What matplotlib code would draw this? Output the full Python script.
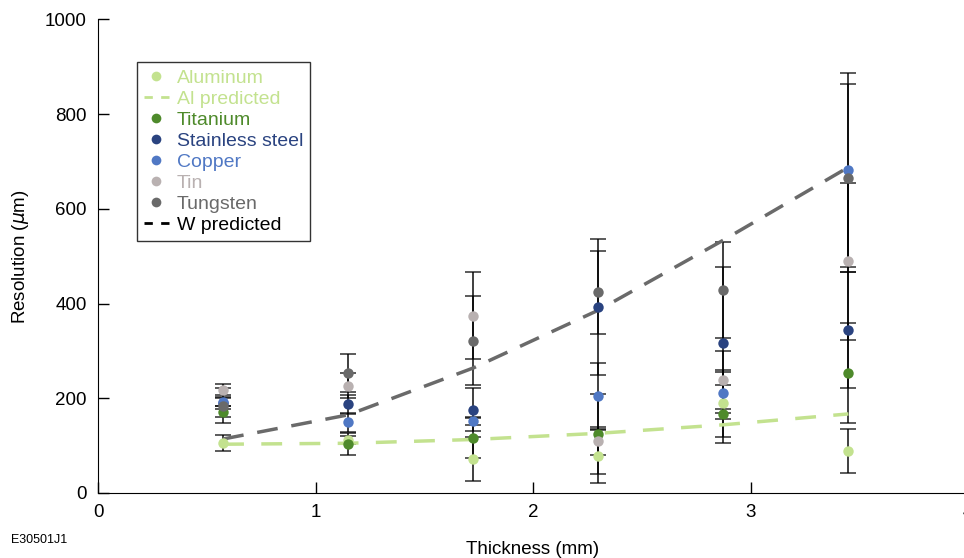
import numpy as np
import matplotlib.pyplot as plt
from matplotlib.lines import Line2D

plt.rcParams['font.family'] = ['Liberation Sans', 'DejaVu Sans']

# thickness positions (mm)
thickness = [0.575, 1.15, 1.725, 2.3, 2.875, 3.45]

# measured resolution (um) and error bars
aluminum = [105, 112, 72, 78, 189, 89]
aluminum_err = [17, 8, 47, 56, 70, 46]
titanium = [172, 103, 117, 125, 167, 253]
titanium_err = [11, 23, 44, 85, 62, 105]
stainless = [190, 187, 176, 393, 317, 344]
stainless_err = [12, 21, 46, 143, 161, 123]
copper = [192, 149, 151, 205, 212, 682]
copper_err = [8, 20, 8, 69, 44, 204]
tin = [218, 227, 374, 110, 239, 489]
tin_err = [12, 27, 92, 30, 61, 165]
tungsten = [184, 253, 322, 424, 429, 665]
tungsten_err = [37, 40, 94, 88, 102, 198]

# model predictions
al_predicted = [103, 105, 113, 126, 144, 167]
w_predicted = [114, 165, 264, 386, 534, 688]

c_al = '#c3e28f'
c_ti = '#4e8a2b'
c_ss = '#2a4380'
c_cu = '#5078c4'
c_sn = '#b9b1b1'
c_w = '#6a6a6a'

fig = plt.figure(figsize=(9.64, 5.58), dpi=100)
ax = fig.add_axes([0.1017, 0.1165, 0.9025, 0.8486])

series = [
    (aluminum, aluminum_err, c_al),
    (titanium, titanium_err, c_ti),
    (stainless, stainless_err, c_ss),
    (copper, copper_err, c_cu),
    (tin, tin_err, c_sn),
    (tungsten, tungsten_err, c_w),
]

# error bars first, markers on top
for vals, err, col in series:
    ax.errorbar(thickness, vals, yerr=err, fmt='none', ecolor='black',
                elinewidth=1.4, capsize=6, capthick=1.2, alpha=0.75, zorder=2)

ax.plot(thickness, al_predicted, color=c_al, lw=2.5, dashes=(6, 5), zorder=3)
ax.plot(thickness, w_predicted, color=c_w, lw=2.5, dashes=(6, 4), zorder=3)

for vals, err, col in series:
    ax.plot(thickness, vals, 'o', color=col, ms=7.5, mec='none', zorder=4)

ax.set_xlim(0, 4)
ax.set_ylim(0, 1000)
ax.set_xticks([0, 1, 2, 3, 4])
ax.set_yticks([0, 200, 400, 600, 800, 1000])
ax.tick_params(direction='in', length=8, width=1, labelsize=13.5, pad=8)
ax.spines['top'].set_visible(False)
ax.spines['right'].set_visible(False)
ax.set_xlabel('Thickness (mm)', fontsize=13.5, labelpad=14)
ax.set_ylabel(r'Resolution ($\mu$m)', fontsize=13.5, labelpad=10)

handles = [
    Line2D([], [], ls='none', marker='o', color=c_al, ms=7, mec='none'),
    Line2D([], [], color=c_al, lw=2, dashes=(3, 3)),
    Line2D([], [], ls='none', marker='o', color=c_ti, ms=7, mec='none'),
    Line2D([], [], ls='none', marker='o', color=c_ss, ms=7, mec='none'),
    Line2D([], [], ls='none', marker='o', color=c_cu, ms=7, mec='none'),
    Line2D([], [], ls='none', marker='o', color=c_sn, ms=7, mec='none'),
    Line2D([], [], ls='none', marker='o', color=c_w, ms=7, mec='none'),
    Line2D([], [], color='black', lw=2, dashes=(3, 3)),
]
labels = ['Aluminum', 'Al predicted', 'Titanium', 'Stainless steel',
          'Copper', 'Tin', 'Tungsten', 'W predicted']
text_colors = [c_al, c_al, c_ti, c_ss, c_cu, c_sn, c_w, 'black']
leg = ax.legend(handles, labels, loc='upper left', borderaxespad=0,
                bbox_to_anchor=(0.0448, 0.910), fontsize=14, frameon=True,
                fancybox=False, edgecolor='black', handlelength=1.3,
                handletextpad=0.4, labelspacing=0.18, borderpad=0.35)
leg.get_frame().set_linewidth(1)
for t, c in zip(leg.get_texts(), text_colors):
    t.set_color(c)

fig.text(0.011, 0.027, 'E30501J1', fontsize=9)

fig.savefig('out.png', dpi=100)
